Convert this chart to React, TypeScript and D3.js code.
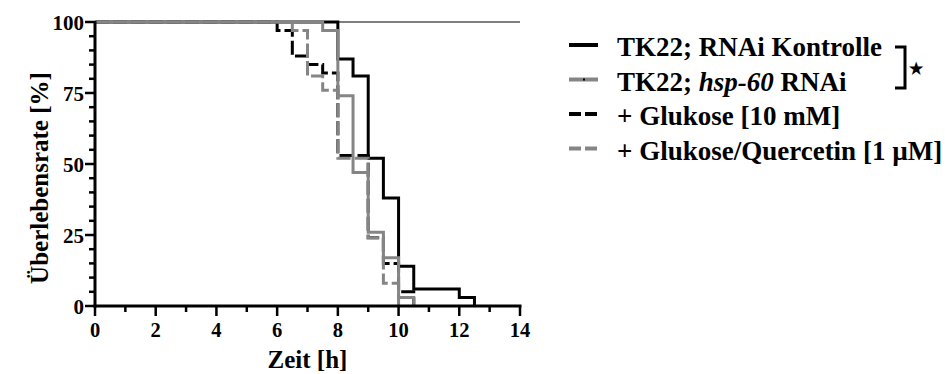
import React, { useEffect, useRef } from 'react';
import * as d3 from 'd3';

// Kaplan-Meier steps (time in h, survival in %)
const kontrolleTime = [0, 8, 8.5, 9, 9.5, 10, 10.5, 12, 12.5];
const kontrolleSurv = [100, 87, 81, 52, 38, 14, 6, 3, 0];

const hspTime = [0, 7.5, 8, 8.5, 9, 9.5, 10, 10.5];
const hspSurv = [100, 97, 74, 47, 26, 17, 3, 0];

const glukoseTime = [0, 6, 6.5, 7, 7.5, 8, 9, 9.5, 10, 10.5];
const glukoseSurv = [100, 97, 88, 85, 82, 53, 24, 15, 5, 0];

const quercetinTime = [0, 6.5, 7, 7.5, 8, 9, 9.5, 10];
const quercetinSurv = [100, 97, 81, 76, 52, 24, 8, 0];

const xTicks = [0, 2, 4, 6, 8, 10, 12, 14];
const yTicks = [0, 25, 50, 75, 100];

const legendLabels = [
  'TK22; RNAi Kontrolle',
  'TK22; hsp-60 RNAi',
  '+ Glukose [10 mM]',
  '+ Glukose/Quercetin [1 µM]',
];

const GRAY = '#858585';
const FONT = '"Liberation Serif", "Times New Roman", Times, "DejaVu Serif", serif';

const SurvivalChart: React.FC = () => {
  const svgRef = useRef<SVGSVGElement | null>(null);

  useEffect(() => {
    const svg = d3.select(svgRef.current);
    svg.selectAll('*').remove();

    const x = d3.scaleLinear().domain([0, 14]).range([95, 520]);
    const y = d3.scaleLinear().domain([0, 100]).range([306, 22]);

    const series = [
      { t: kontrolleTime, s: kontrolleSurv, color: '#000', dash: null },
      { t: glukoseTime, s: glukoseSurv, color: '#000', dash: '14,4' },
      { t: quercetinTime, s: quercetinSurv, color: GRAY, dash: '14,4' },
      { t: hspTime, s: hspSurv, color: GRAY, dash: null },
    ];

    const line = d3.line<[number, number]>()
      .x(d => x(d[0]))
      .y(d => y(d[1]))
      .curve(d3.curveStepAfter);

    // thin line along 100 % behind the curves
    svg.append('line')
      .attr('x1', x(0)).attr('x2', x(14))
      .attr('y1', y(100)).attr('y2', y(100))
      .attr('stroke', '#000').attr('stroke-width', 1.2);

    series.forEach(d => {
      const pts: [number, number][] = d.t.map((t, i) => [t, d.s[i]]);
      svg.append('path')
        .attr('d', line(pts))
        .attr('fill', 'none')
        .attr('stroke', d.color)
        .attr('stroke-width', 3)
        .attr('stroke-dasharray', d.dash)
        .attr('stroke-linejoin', 'miter')
        .attr('stroke-linecap', 'butt');
    });

    // axes
    const axes = svg.append('g').attr('stroke', '#000');
    axes.append('line')
      .attr('x1', x(0)).attr('x2', x(0))
      .attr('y1', y(100) - 1).attr('y2', y(0) + 1.5)
      .attr('stroke-width', 3);
    axes.append('line')
      .attr('x1', x(0) - 1.5).attr('x2', x(14) + 1.5)
      .attr('y1', y(0)).attr('y2', y(0))
      .attr('stroke-width', 3);

    d3.range(0, 101, 5).forEach(v => {
      const major = v % 25 === 0;
      axes.append('line')
        .attr('x1', x(0) - (major ? 10 : 6)).attr('x2', x(0))
        .attr('y1', y(v)).attr('y2', y(v))
        .attr('stroke-width', 2.5);
    });
    d3.range(0, 15, 1).forEach(v => {
      const major = v % 2 === 0;
      axes.append('line')
        .attr('x1', x(v)).attr('x2', x(v))
        .attr('y1', y(0)).attr('y2', y(0) + (major ? 10 : 6))
        .attr('stroke-width', 2.5);
    });

    const text = svg.append('g')
      .style('font-family', FONT)
      .style('font-weight', 'bold')
      .attr('fill', '#000');

    yTicks.forEach(v => {
      text.append('text')
        .attr('x', 84).attr('y', y(v) + 7.5)
        .attr('text-anchor', 'end')
        .style('font-size', '21px')
        .text(v);
    });
    xTicks.forEach(v => {
      text.append('text')
        .attr('x', x(v)).attr('y', 337)
        .attr('text-anchor', 'middle')
        .style('font-size', '20.5px')
        .text(v);
    });

    text.append('text')
      .attr('x', x(7)).attr('y', 368)
      .attr('text-anchor', 'middle')
      .style('font-size', '25px')
      .text('Zeit [h]');

    text.append('text')
      .attr('transform', 'translate(48, 178) rotate(-90)')
      .attr('text-anchor', 'middle')
      .style('font-size', '25px')
      .text('Überlebensrate [%]');

    // legend
    const legendStyles = [
      { color: '#000', dash: null },
      { color: GRAY, dash: null },
      { color: '#000', dash: '12,4' },
      { color: GRAY, dash: '12,4' },
    ];
    legendLabels.forEach((label, i) => {
      const ly = 45 + i * 34.5;
      svg.append('line')
        .attr('x1', 569).attr('x2', 598)
        .attr('y1', ly).attr('y2', ly)
        .attr('stroke', legendStyles[i].color)
        .attr('stroke-width', 4)
        .attr('stroke-dasharray', legendStyles[i].dash);
      if (i === 1) {
        svg.append('rect')
          .attr('x', 583).attr('y', ly - 1).attr('width', 2).attr('height', 2)
          .attr('fill', '#000');
      }
      const t = text.append('text')
        .attr('x', 617).attr('y', ly + 11)
        .style('font-size', '27px');
      if (i === 1) {
        t.append('tspan').text('TK22; ');
        t.append('tspan').style('font-style', 'italic').text('hsp-60');
        t.append('tspan').text(' RNAi');
      } else {
        t.text(label);
      }
    });

    // significance bracket
    svg.append('path')
      .attr('d', 'M895,47 H905 V88 H895')
      .attr('fill', 'none')
      .attr('stroke', '#000')
      .attr('stroke-width', 3);
    text.append('text')
      .attr('x', 909).attr('y', 74)
      .style('font-size', '16px')
      .text('★');
  }, []);

  return (
    <svg
      ref={svgRef}
      width={945}
      height={374}
      style={{ position: 'absolute', left: 0, top: 0, background: '#fff' }}
    />
  );
};

export default function App() {
  return <SurvivalChart />;
}
